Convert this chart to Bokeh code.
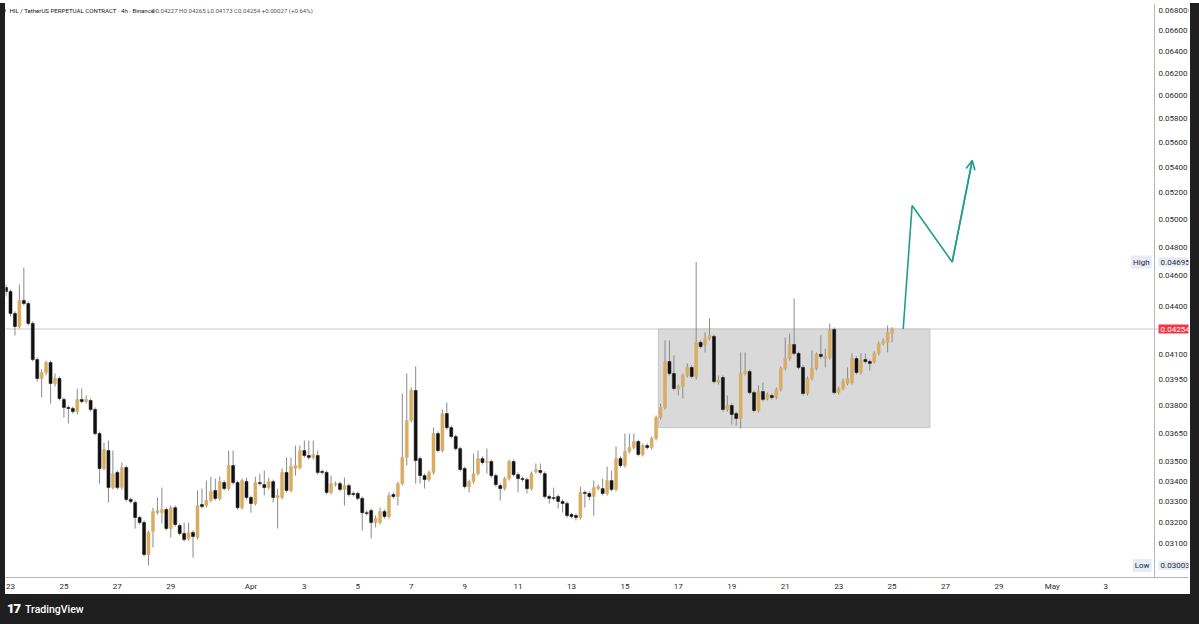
import math
from datetime import datetime, timedelta
from bokeh.plotting import figure
from bokeh.models import (Range1d, FixedTicker, PrintfTickFormatter, CustomJSTickFormatter,
                          Span, Label, Arrow, OpenHead, Div, ColumnDataSource)
from bokeh.layouts import column, row
from bokeh.embed import file_html
from bokeh.resources import INLINE

# ---------------- data (4h candles, HIL/USDT perpetual) ----------------
FIRST_CANDLE = datetime(2025, 3, 22, 20, 0)

opens = [
    0.04522, 0.04495, 0.04353, 0.04270, 0.04437, 0.04417, 0.04289, 0.04067, 0.03955, 0.03990,
    0.04049, 0.03926, 0.03955, 0.03835, 0.03790, 0.03784, 0.03767, 0.03835, 0.03823, 0.03829,
    0.03779, 0.03647, 0.03464, 0.03557, 0.03368, 0.03444, 0.03368, 0.03469, 0.03310, 0.03295,
    0.03223, 0.03199, 0.03052, 0.03157, 0.03246, 0.03246, 0.03261, 0.03171, 0.03270, 0.03185,
    0.03148, 0.03125, 0.03153, 0.03129, 0.03285, 0.03280, 0.03305, 0.03354, 0.03315, 0.03393,
    0.03363, 0.03479, 0.03393, 0.03270, 0.03398, 0.03319, 0.03290, 0.03393, 0.03383, 0.03368,
    0.03398, 0.03319, 0.03319, 0.03444, 0.03354, 0.03464, 0.03469, 0.03557, 0.03531, 0.03521,
    0.03531, 0.03449, 0.03444, 0.03344, 0.03383, 0.03388, 0.03359, 0.03378, 0.03339, 0.03339,
    0.03315, 0.03246, 0.03256, 0.03199, 0.03199, 0.03251, 0.03228, 0.03334, 0.03324, 0.03388,
    0.03521, 0.03718, 0.03886, 0.03515, 0.03428, 0.03408, 0.03444, 0.03647, 0.03557, 0.03756,
    0.03679, 0.03631, 0.03567, 0.03464, 0.03373, 0.03398, 0.03438, 0.03515, 0.03495, 0.03500,
    0.03428, 0.03378, 0.03363, 0.03413, 0.03500, 0.03433, 0.03413, 0.03408, 0.03363, 0.03449,
    0.03454, 0.03438, 0.03324, 0.03319, 0.03324, 0.03300, 0.03290, 0.03237, 0.03232, 0.03223,
    0.03344, 0.03339, 0.03324, 0.03363, 0.03363, 0.03339, 0.03403, 0.03359, 0.03515, 0.03479,
    0.03552, 0.03573, 0.03605, 0.03536, 0.03583, 0.03573, 0.03621, 0.03734, 0.03790, 0.04055,
    0.03984, 0.03897, 0.03909, 0.03973, 0.04020, 0.03967, 0.04171, 0.04158, 0.04195, 0.04208,
    0.03932, 0.03961, 0.03779, 0.03801, 0.03756, 0.03729, 0.03984, 0.03996, 0.03874, 0.03773,
    0.03880, 0.03840, 0.03857, 0.03846, 0.03892, 0.04014, 0.04073, 0.04158, 0.04104, 0.04020,
    0.03869, 0.03955, 0.04014, 0.04098, 0.04073, 0.04080, 0.04251, 0.03874, 0.03897, 0.03926,
    0.03932, 0.04073, 0.03990, 0.04067, 0.04055, 0.04055, 0.04104, 0.04164, 0.04171, 0.04227,
]
highs = [
    0.04542, 0.04509, 0.04366, 0.04542, 0.04657, 0.04430, 0.04302, 0.04080, 0.04008, 0.04061,
    0.04061, 0.03984, 0.03967, 0.03846, 0.03801, 0.03795, 0.03897, 0.03897, 0.03857, 0.03840,
    0.03790, 0.03658, 0.03599, 0.03610, 0.03557, 0.03454, 0.03495, 0.03479, 0.03319, 0.03305,
    0.03232, 0.03209, 0.03162, 0.03270, 0.03319, 0.03368, 0.03270, 0.03280, 0.03280, 0.03195,
    0.03199, 0.03199, 0.03162, 0.03354, 0.03363, 0.03403, 0.03423, 0.03413, 0.03423, 0.03403,
    0.03557, 0.03557, 0.03403, 0.03413, 0.03418, 0.03329, 0.03423, 0.03438, 0.03454, 0.03418,
    0.03408, 0.03363, 0.03464, 0.03521, 0.03521, 0.03583, 0.03583, 0.03610, 0.03610, 0.03610,
    0.03557, 0.03459, 0.03454, 0.03428, 0.03398, 0.03398, 0.03418, 0.03388, 0.03349, 0.03349,
    0.03324, 0.03256, 0.03266, 0.03232, 0.03270, 0.03261, 0.03344, 0.03344, 0.03398, 0.03869,
    0.03984, 0.03903, 0.04026, 0.03526, 0.03438, 0.03454, 0.03679, 0.03658, 0.03779, 0.03818,
    0.03690, 0.03642, 0.03578, 0.03474, 0.03408, 0.03541, 0.03557, 0.03526, 0.03567, 0.03510,
    0.03438, 0.03388, 0.03423, 0.03510, 0.03510, 0.03444, 0.03423, 0.03418, 0.03449, 0.03490,
    0.03490, 0.03449, 0.03334, 0.03368, 0.03334, 0.03310, 0.03300, 0.03246, 0.03242, 0.03373,
    0.03354, 0.03349, 0.03403, 0.03383, 0.03413, 0.03474, 0.03454, 0.03578, 0.03526, 0.03647,
    0.03647, 0.03647, 0.03615, 0.03594, 0.03594, 0.03631, 0.03745, 0.03812, 0.04183, 0.04183,
    0.04092, 0.03920, 0.03984, 0.04044, 0.04032, 0.04695, 0.04183, 0.04233, 0.04321, 0.04220,
    0.03973, 0.03973, 0.03857, 0.03812, 0.03767, 0.04110, 0.04110, 0.04008, 0.03886, 0.03915,
    0.03932, 0.03874, 0.03869, 0.03903, 0.04026, 0.04201, 0.04226, 0.04450, 0.04116, 0.04032,
    0.03967, 0.04122, 0.04110, 0.04214, 0.04134, 0.04289, 0.04264, 0.03909, 0.03955, 0.04020,
    0.04104, 0.04086, 0.04104, 0.04104, 0.04067, 0.04116, 0.04177, 0.04195, 0.04276, 0.04265,
]
lows = [
    0.04463, 0.04334, 0.04214, 0.04257, 0.04404, 0.04276, 0.04055, 0.03937, 0.03846, 0.03973,
    0.03812, 0.03909, 0.03829, 0.03734, 0.03701, 0.03756, 0.03751, 0.03812, 0.03812, 0.03767,
    0.03637, 0.03388, 0.03454, 0.03295, 0.03359, 0.03359, 0.03359, 0.03300, 0.03290, 0.03171,
    0.03190, 0.03043, 0.03003, 0.03084, 0.03237, 0.03195, 0.03162, 0.03129, 0.03180, 0.03139,
    0.03111, 0.03115, 0.03038, 0.03120, 0.03266, 0.03270, 0.03295, 0.03305, 0.03305, 0.03354,
    0.03354, 0.03383, 0.03261, 0.03261, 0.03310, 0.03246, 0.03280, 0.03378, 0.03329, 0.03359,
    0.03295, 0.03171, 0.03310, 0.03344, 0.03344, 0.03428, 0.03459, 0.03521, 0.03510, 0.03510,
    0.03433, 0.03433, 0.03334, 0.03334, 0.03373, 0.03349, 0.03280, 0.03324, 0.03324, 0.03305,
    0.03162, 0.03232, 0.03125, 0.03176, 0.03190, 0.03218, 0.03218, 0.03315, 0.03280, 0.03378,
    0.03479, 0.03707, 0.03388, 0.03388, 0.03363, 0.03398, 0.03433, 0.03547, 0.03547, 0.03668,
    0.03621, 0.03557, 0.03449, 0.03363, 0.03344, 0.03388, 0.03428, 0.03484, 0.03438, 0.03418,
    0.03373, 0.03305, 0.03354, 0.03403, 0.03423, 0.03344, 0.03398, 0.03339, 0.03354, 0.03438,
    0.03433, 0.03315, 0.03290, 0.03305, 0.03266, 0.03246, 0.03223, 0.03218, 0.03209, 0.03213,
    0.03270, 0.03305, 0.03232, 0.03354, 0.03329, 0.03329, 0.03349, 0.03349, 0.03469, 0.03469,
    0.03541, 0.03562, 0.03526, 0.03526, 0.03562, 0.03562, 0.03610, 0.03723, 0.03779, 0.03973,
    0.03886, 0.03857, 0.03840, 0.03961, 0.03955, 0.03949, 0.04134, 0.04110, 0.04183, 0.03926,
    0.03920, 0.03767, 0.03767, 0.03696, 0.03690, 0.03674, 0.03973, 0.03863, 0.03762, 0.03762,
    0.03823, 0.03829, 0.03835, 0.03835, 0.03880, 0.04002, 0.04061, 0.04092, 0.04008, 0.03857,
    0.03857, 0.03943, 0.04002, 0.04073, 0.04020, 0.04067, 0.03863, 0.03863, 0.03886, 0.03915,
    0.03920, 0.03979, 0.03979, 0.04044, 0.04002, 0.04044, 0.04092, 0.04152, 0.04110, 0.04173,
]
closes = [
    0.04495, 0.04353, 0.04270, 0.04437, 0.04417, 0.04289, 0.04067, 0.03955, 0.03990, 0.04049,
    0.03926, 0.03955, 0.03840, 0.03790, 0.03784, 0.03767, 0.03835, 0.03823, 0.03835, 0.03779,
    0.03647, 0.03464, 0.03562, 0.03368, 0.03438, 0.03368, 0.03469, 0.03310, 0.03300, 0.03223,
    0.03199, 0.03052, 0.03153, 0.03251, 0.03256, 0.03261, 0.03171, 0.03270, 0.03190, 0.03148,
    0.03120, 0.03153, 0.03134, 0.03280, 0.03275, 0.03305, 0.03349, 0.03315, 0.03398, 0.03363,
    0.03479, 0.03393, 0.03270, 0.03403, 0.03319, 0.03290, 0.03393, 0.03388, 0.03368, 0.03398,
    0.03319, 0.03329, 0.03444, 0.03354, 0.03474, 0.03479, 0.03557, 0.03531, 0.03521, 0.03536,
    0.03444, 0.03444, 0.03344, 0.03388, 0.03388, 0.03359, 0.03378, 0.03334, 0.03334, 0.03315,
    0.03246, 0.03242, 0.03199, 0.03218, 0.03251, 0.03228, 0.03329, 0.03324, 0.03388, 0.03521,
    0.03718, 0.03886, 0.03505, 0.03428, 0.03408, 0.03444, 0.03647, 0.03557, 0.03756, 0.03679,
    0.03631, 0.03567, 0.03459, 0.03373, 0.03398, 0.03438, 0.03515, 0.03495, 0.03500, 0.03428,
    0.03383, 0.03363, 0.03413, 0.03500, 0.03433, 0.03413, 0.03408, 0.03363, 0.03438, 0.03459,
    0.03444, 0.03324, 0.03315, 0.03315, 0.03300, 0.03290, 0.03232, 0.03228, 0.03223, 0.03344,
    0.03339, 0.03324, 0.03368, 0.03373, 0.03339, 0.03403, 0.03359, 0.03515, 0.03479, 0.03552,
    0.03573, 0.03605, 0.03536, 0.03583, 0.03573, 0.03621, 0.03734, 0.03790, 0.04055, 0.03984,
    0.03897, 0.03909, 0.03973, 0.04020, 0.03967, 0.04171, 0.04146, 0.04195, 0.04214, 0.03937,
    0.03943, 0.03779, 0.03801, 0.03751, 0.03729, 0.03984, 0.03996, 0.03874, 0.03773, 0.03880,
    0.03835, 0.03863, 0.03846, 0.03892, 0.04014, 0.04073, 0.04158, 0.04104, 0.04020, 0.03869,
    0.03955, 0.04014, 0.04098, 0.04086, 0.04086, 0.04251, 0.03874, 0.03897, 0.03937, 0.03955,
    0.04073, 0.03990, 0.04061, 0.04055, 0.04044, 0.04104, 0.04164, 0.04177, 0.04233, 0.04254,
]

LAST_PRICE = 0.04254
HIGH_PRICE = 0.04695
LOW_PRICE = 0.03003

PRICE_TICKS = [0.068, 0.066, 0.064, 0.062, 0.060, 0.058, 0.056, 0.054, 0.052, 0.050,
               0.048, 0.046, 0.044, 0.041, 0.0395, 0.038, 0.0365, 0.035, 0.034, 0.033,
               0.032, 0.031]
DATE_TICKS = [datetime(2025, 3, d) for d in (23, 25, 27, 29)] + \
             [datetime(2025, 4, d) for d in range(1, 30, 2)] + \
             [datetime(2025, 5, 1), datetime(2025, 5, 3)]

# consolidation box
zone_start = [datetime(2025, 4, 16, 6, 0)]
zone_end = [datetime(2025, 4, 26, 10, 0)]
zone_top = [0.04254]
zone_bottom = [0.03679]

# projected path (teal arrow)
proj_times = [datetime(2025, 4, 25, 10, 0), datetime(2025, 4, 25, 18, 0),
              datetime(2025, 4, 27, 6, 0), datetime(2025, 4, 28, 0, 0)]
proj_prices = [0.04254, 0.05103, 0.04695, 0.05452]

# ---------------- layout helpers (page pixels) ----------------
PX_PER_DAY = 26.76
DAY0 = datetime(2025, 3, 23)          # Mar 23 00:00 sits at page x = 10
def t_at(px):   # page pixel -> time (annotation placement only)
    return DAY0 + timedelta(days=(px - 10) / PX_PER_DAY)
def p_at(py):   # page pixel -> price (annotation placement only)
    return math.exp(math.log(0.068) - (py - 10) / 679.06)

# frame spans page x 5..1190, y 3..577 (price scale drawn inside its right part)
x_start, x_end = t_at(5), t_at(1190)
y_lo, y_hi = p_at(577), p_at(3)

GOLD = "#d8ad62"
BLACK = "#111111"
WICK = "#8a8a8a"
FONT = "Roboto"
AXIS_TXT = "#2a2a2a"

times = [FIRST_CANDLE + timedelta(hours=4 * i) for i in range(len(opens))]
up = [c >= o for o, c in zip(opens, closes)]

def pick(mask):
    return dict(
        t=[t for t, m in zip(times, mask) if m],
        top=[max(o, c) for o, c, m in zip(opens, closes, mask) if m],
        bottom=[min(o, c) for o, c, m in zip(opens, closes, mask) if m],
    )

src_all = ColumnDataSource(dict(t=times, high=highs, low=lows))
src_up = ColumnDataSource(pick(up))
src_dn = ColumnDataSource(pick([not u for u in up]))

p = figure(width=1185, height=591, x_axis_type="datetime", y_axis_type="log",
           y_axis_location="right",
           x_range=Range1d(x_start, x_end), y_range=Range1d(y_lo, y_hi),
           toolbar_location=None, output_backend="svg",
           min_border_left=0, min_border_top=0, min_border_right=0, min_border_bottom=17,
           background_fill_color="white", border_fill_color="white", outline_line_color=None)
p.grid.visible = False

# axes
p.yaxis.ticker = FixedTicker(ticks=PRICE_TICKS)
p.yaxis.formatter = PrintfTickFormatter(format="%.5f")
p.xaxis.ticker = FixedTicker(ticks=[(d - datetime(1970, 1, 1)).total_seconds() * 1000 for d in DATE_TICKS])
p.xaxis.formatter = CustomJSTickFormatter(code="""
const d = new Date(tick);
const names = ["Jan","Feb","Mar","Apr","May","Jun","Jul","Aug","Sep","Oct","Nov","Dec"];
return d.getUTCDate() === 1 ? names[d.getUTCMonth()] : String(d.getUTCDate());
""")
for ax in (p.xaxis[0], p.yaxis[0]):
    ax.major_tick_line_color = None
    ax.minor_tick_line_color = None
    ax.major_tick_out = 0
    ax.major_tick_in = 0
    ax.minor_tick_out = 0
    ax.minor_tick_in = 0
    ax.major_label_text_font = FONT
    ax.major_label_text_font_size = "8px"
    ax.major_label_text_color = AXIS_TXT
p.xaxis.axis_line_color = "#b5b5b5"
p.xaxis.major_label_standoff = 4
# price labels sit inside the right-hand price column of the frame
p.yaxis.axis_line_color = None
p.yaxis.major_label_standoff = -30

# price-scale separator
p.add_layout(Span(location=t_at(1156), dimension="height", line_color="#b5b5b5", line_width=1))

# price line
p.add_layout(Span(location=LAST_PRICE, dimension="width", line_color="#c9c9c9",
                  line_width=1, level="underlay"))

# consolidation rectangle
p.quad(left=zone_start, right=zone_end, top=zone_top, bottom=zone_bottom,
       fill_color="#d9d9d9", line_color="#c6c6c6", line_width=1)

# candles
body_w = timedelta(hours=2.7)
p.segment("t", "high", "t", "low", source=src_all, line_color=WICK, line_width=1)
p.vbar(x="t", width=body_w, top="top", bottom="bottom", source=src_up,
       fill_color=GOLD, line_color=GOLD, line_width=0.5)
p.vbar(x="t", width=body_w, top="top", bottom="bottom", source=src_dn,
       fill_color=BLACK, line_color=BLACK, line_width=0.5)

# projection
TEAL = "#1f9e8d"
p.line(proj_times, proj_prices, line_color=TEAL, line_width=1.6)
p.add_layout(Arrow(end=OpenHead(size=9, line_color=TEAL, line_width=1.6),
                   x_start=proj_times[-2], y_start=proj_prices[-2],
                   x_end=proj_times[-1], y_end=proj_prices[-1],
                   line_color=TEAL, line_width=1.6))

# header text
p.add_layout(Label(x=t_at(9), y=p_at(9.5), text="HIL / TetherUS PERPETUAL CONTRACT · 4h · Binance",
                   text_font=FONT, text_font_size="6.1px", text_color="#131722",
                   text_baseline="middle"))
p.add_layout(Label(x=t_at(151), y=p_at(9.5),
                   text="O0.04227 H0.04265 L0.04173 C0.04254 +0.00027 (+0.64%)",
                   text_font=FONT, text_font_size="6.1px", text_color="#555555",
                   text_baseline="middle"))

# axis badges
BADGE_BG = "#e4ecf7"
def badge(px, price, text, bg, color, align="left"):
    p.add_layout(Label(x=t_at(px), y=price, text=text, text_font=FONT, text_font_size="8px",
                       text_color=color, text_baseline="middle", text_align=align,
                       background_fill_color=bg, padding=2))

badge(1153, HIGH_PRICE, "High", BADGE_BG, AXIS_TXT, "right")
badge(1160, HIGH_PRICE, "0.04695", BADGE_BG, AXIS_TXT)
badge(1153, LOW_PRICE, "Low", BADGE_BG, AXIS_TXT, "right")
badge(1160, LOW_PRICE, "0.03003", BADGE_BG, AXIS_TXT)
badge(1160, LAST_PRICE, "0.04254", "#f23645", "white")

DARK = "#1f1f1f"
def strip(w, h, inner=""):
    return Div(text=f'<div style="width:{w}px;height:{h}px;background:{DARK};{inner}">',
               width=w, height=h, margin=0)

top_strip = Div(text=f'<div style="width:1199px;height:3px;background:{DARK};"></div>',
                width=1199, height=3, margin=0)
left_strip = Div(text=f'<div style="width:5px;height:591px;background:{DARK};"></div>',
                 width=5, height=591, margin=0)
right_strip = Div(text=f'<div style="width:9px;height:591px;background:{DARK};"></div>',
                  width=9, height=591, margin=0)
footer = Div(text=(f'<div style="width:1199px;height:30px;background:{DARK};display:flex;'
                   f'align-items:center;font-family:Roboto,sans-serif;color:#ffffff;">'
                   '<span style="margin-left:7px;font-weight:900;font-size:13px;letter-spacing:-1px;">17</span>'
                   '<span style="font-size:10.5px;font-weight:500;margin-left:5px;">TradingView</span>'
                   '</div>'), width=1199, height=30, margin=0)

layout = column(top_strip, row(left_strip, p, right_strip), footer)
open("out.html", "w").write(file_html(layout, INLINE))
